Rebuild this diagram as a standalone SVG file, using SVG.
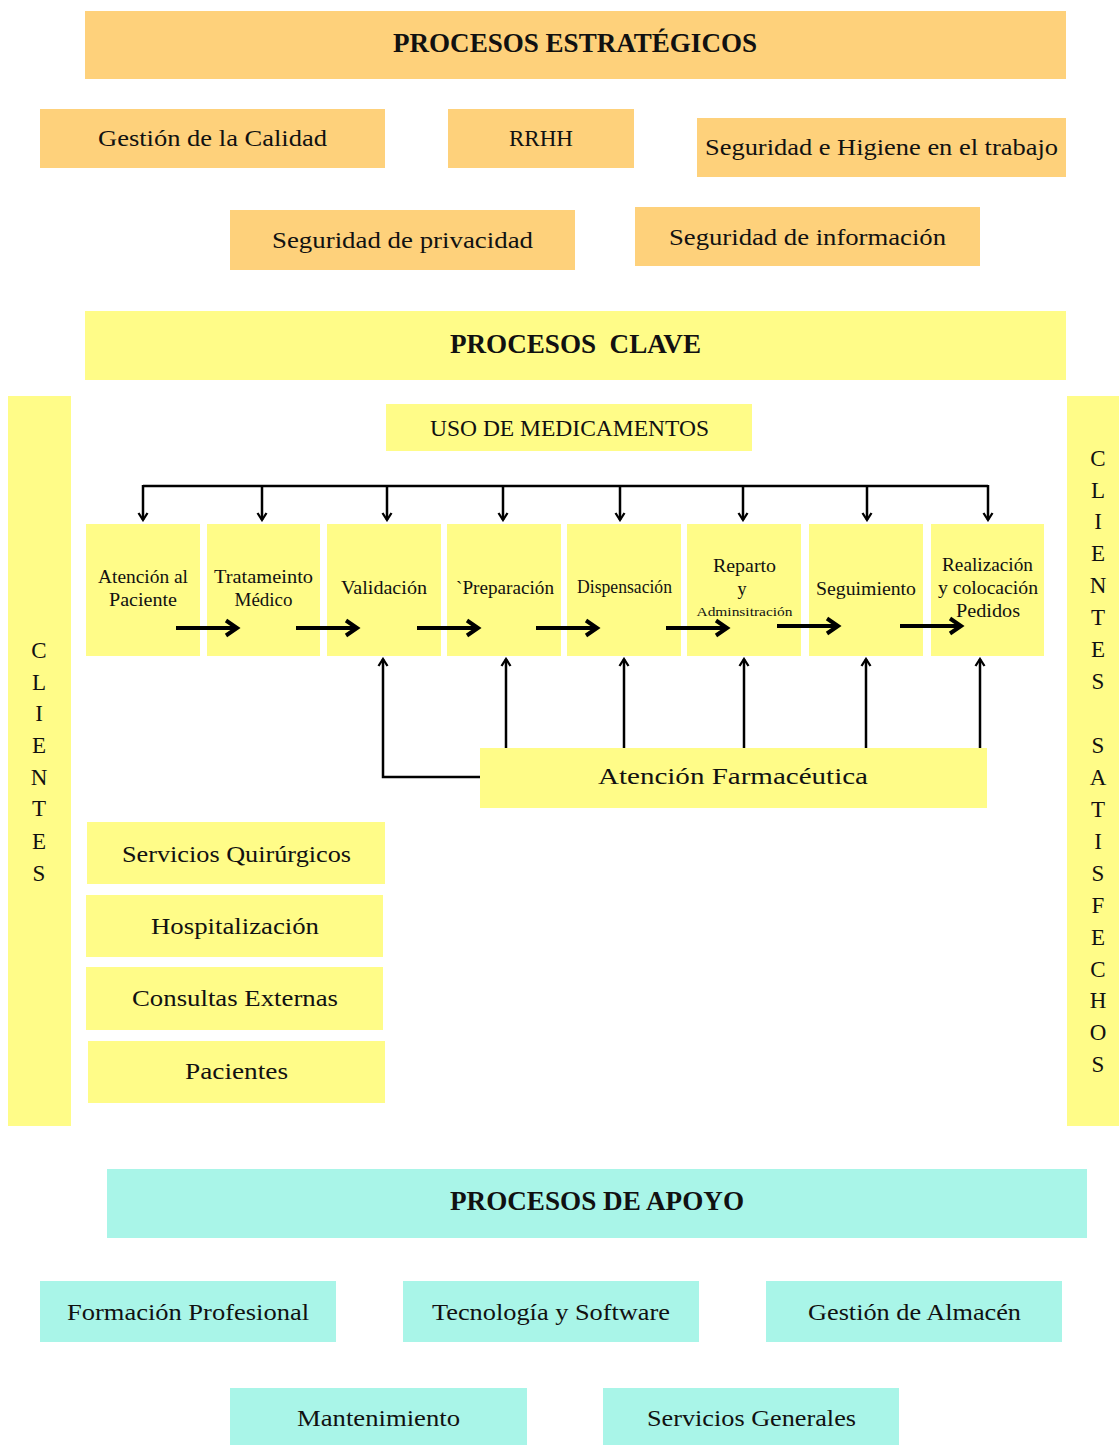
<svg xmlns="http://www.w3.org/2000/svg" width="1119" height="1445" viewBox="0 0 1119 1445">
  <style>
    text { font-family: "Liberation Serif", "Times New Roman", serif; fill: #111; text-anchor: middle; }
    .h { font-weight: bold; font-size: 27px; }
    .m { font-size: 24px; }
    .s { font-size: 18px; }
    .xs { font-size: 13px; }
    .v { font-size: 23px; }
    .est { fill: #FED17B; }
    .clave { fill: #FFFC88; }
    .apoyo { fill: #A9F5E8; }
    .thin { fill: none; stroke: #000; stroke-width: 2.5; }
    .thick { fill: none; stroke: #000; stroke-width: 4; }
  </style>
  <defs>
    <marker id="tip" viewBox="0 0 12 12" refX="10" refY="6" markerWidth="12" markerHeight="12" markerUnits="userSpaceOnUse" orient="auto">
      <path d="M3,1.5 L10,6 L3,10.5" fill="none" stroke="#000" stroke-width="2.3"/>
    </marker>
    <marker id="tipBig" viewBox="0 0 20 20" refX="16" refY="10" markerWidth="20" markerHeight="20" markerUnits="userSpaceOnUse" orient="auto">
      <path d="M5,2.5 L16,10 L5,17.5" fill="none" stroke="#000" stroke-width="4"/>
    </marker>
  </defs>

  <rect width="1119" height="1445" fill="#fff"/>

  <!-- Strategic processes -->
  <g id="procesos-estrategicos">
    <rect class="est" x="85" y="11" width="981" height="68"/>
    <text class="h" x="575" y="52" textLength="364" lengthAdjust="spacingAndGlyphs">PROCESOS ESTRATÉGICOS</text>
  </g>
  <g id="gestion-calidad">
    <rect class="est" x="40" y="109" width="345" height="59"/>
    <text class="m" x="212.5" y="146" textLength="229" lengthAdjust="spacingAndGlyphs">Gestión de la Calidad</text>
  </g>
  <g id="rrhh">
    <rect class="est" x="448" y="109" width="186" height="59"/>
    <text class="m" x="541" y="146" textLength="64" lengthAdjust="spacingAndGlyphs">RRHH</text>
  </g>
  <g id="seguridad-higiene">
    <rect class="est" x="697" y="118" width="369" height="59"/>
    <text class="m" x="881.5" y="155" textLength="353" lengthAdjust="spacingAndGlyphs">Seguridad e Higiene en el trabajo</text>
  </g>
  <g id="seguridad-privacidad">
    <rect class="est" x="230" y="210" width="345" height="60"/>
    <text class="m" x="402.5" y="248" textLength="261" lengthAdjust="spacingAndGlyphs">Seguridad de privacidad</text>
  </g>
  <g id="seguridad-informacion">
    <rect class="est" x="635" y="207" width="345" height="59"/>
    <text class="m" x="807.5" y="245" textLength="277" lengthAdjust="spacingAndGlyphs">Seguridad de información</text>
  </g>

  <!-- Key processes -->
  <g id="procesos-clave">
    <rect class="clave" x="85" y="311" width="981" height="69"/>
    <text class="h" x="575.5" y="353" textLength="251" lengthAdjust="spacingAndGlyphs" xml:space="preserve">PROCESOS  CLAVE</text>
  </g>
  <g id="uso-medicamentos">
    <rect class="clave" x="386" y="404" width="366" height="47"/>
    <text class="m" x="569.5" y="436" textLength="279" lengthAdjust="spacingAndGlyphs">USO DE MEDICAMENTOS</text>
  </g>

  <g id="clientes-entrada">
    <rect class="clave" x="8" y="396" width="63" height="730"/>
    <text class="v" x="39" y="658">C</text>
    <text class="v" x="39" y="690">L</text>
    <text class="v" x="39" y="721">I</text>
    <text class="v" x="39" y="753">E</text>
    <text class="v" x="39" y="785">N</text>
    <text class="v" x="39" y="816">T</text>
    <text class="v" x="39" y="849">E</text>
    <text class="v" x="39" y="881">S</text>
  </g>

  <g id="clientes-satisfechos">
    <rect class="clave" x="1067" y="396" width="52" height="730"/>
    <text class="v" x="1098" y="466">C</text>
    <text class="v" x="1098" y="498">L</text>
    <text class="v" x="1098" y="529">I</text>
    <text class="v" x="1098" y="561">E</text>
    <text class="v" x="1098" y="593">N</text>
    <text class="v" x="1098" y="625">T</text>
    <text class="v" x="1098" y="657">E</text>
    <text class="v" x="1098" y="689">S</text>
    <text class="v" x="1098" y="753">S</text>
    <text class="v" x="1098" y="785">A</text>
    <text class="v" x="1098" y="817">T</text>
    <text class="v" x="1098" y="849">I</text>
    <text class="v" x="1098" y="881">S</text>
    <text class="v" x="1098" y="913">F</text>
    <text class="v" x="1098" y="945">E</text>
    <text class="v" x="1098" y="977">C</text>
    <text class="v" x="1098" y="1008">H</text>
    <text class="v" x="1098" y="1040">O</text>
    <text class="v" x="1098" y="1072">S</text>
  </g>

  <!-- Medication-use chain -->
  <g id="atencion-paciente">
    <rect class="clave" x="86" y="524" width="114" height="132"/>
    <text class="s" x="143" y="583" textLength="90" lengthAdjust="spacingAndGlyphs">Atención al</text>
    <text class="s" x="143" y="606" textLength="68" lengthAdjust="spacingAndGlyphs">Paciente</text>
  </g>
  <g id="tratamiento-medico">
    <rect class="clave" x="207" y="524" width="113" height="132"/>
    <text class="s" x="263.5" y="583" textLength="99" lengthAdjust="spacingAndGlyphs">Tratameinto</text>
    <text class="s" x="263.5" y="606" textLength="58" lengthAdjust="spacingAndGlyphs">Médico</text>
  </g>
  <g id="validacion">
    <rect class="clave" x="327" y="524" width="114" height="132"/>
    <text class="s" x="384" y="594" textLength="86" lengthAdjust="spacingAndGlyphs">Validación</text>
  </g>
  <g id="preparacion">
    <rect class="clave" x="447" y="524" width="114" height="132"/>
    <text class="s" x="505" y="594" textLength="98" lengthAdjust="spacingAndGlyphs">`Preparación</text>
  </g>
  <g id="dispensacion">
    <rect class="clave" x="567" y="524" width="114" height="132"/>
    <text class="s" x="624.5" y="593" font-size="16px" textLength="95" lengthAdjust="spacingAndGlyphs">Dispensación</text>
  </g>
  <g id="reparto-administracion">
    <rect class="clave" x="687" y="524" width="114" height="132"/>
    <text class="s" x="744.5" y="572" textLength="63" lengthAdjust="spacingAndGlyphs">Reparto</text>
    <text class="s" x="742" y="595">y</text>
    <text class="xs" x="744.5" y="616" textLength="96" lengthAdjust="spacingAndGlyphs">Adminsitración</text>
  </g>
  <g id="seguimiento">
    <rect class="clave" x="809" y="524" width="114" height="132"/>
    <text class="s" x="866" y="595" textLength="100" lengthAdjust="spacingAndGlyphs">Seguimiento</text>
  </g>
  <g id="realizacion-pedidos">
    <rect class="clave" x="931" y="524" width="113" height="132"/>
    <text class="s" x="987.5" y="571" textLength="91" lengthAdjust="spacingAndGlyphs">Realización</text>
    <text class="s" x="988" y="594" textLength="100" lengthAdjust="spacingAndGlyphs">y colocación</text>
    <text class="s" x="988" y="617" textLength="64" lengthAdjust="spacingAndGlyphs">Pedidos</text>
  </g>

  <g id="atencion-farmaceutica">
    <rect class="clave" x="480" y="748" width="507" height="60"/>
    <text class="m" x="733" y="784" textLength="270" lengthAdjust="spacingAndGlyphs">Atención Farmacéutica</text>
  </g>

  <!-- Service areas -->
  <g id="servicios-quirurgicos">
    <rect class="clave" x="87" y="822" width="298" height="62"/>
    <text class="m" x="236.5" y="862" textLength="229" lengthAdjust="spacingAndGlyphs">Servicios Quirúrgicos</text>
  </g>
  <g id="hospitalizacion">
    <rect class="clave" x="86" y="895" width="297" height="62"/>
    <text class="m" x="235" y="934" textLength="168" lengthAdjust="spacingAndGlyphs">Hospitalización</text>
  </g>
  <g id="consultas-externas">
    <rect class="clave" x="86" y="967" width="297" height="63"/>
    <text class="m" x="235" y="1006" textLength="206" lengthAdjust="spacingAndGlyphs">Consultas Externas</text>
  </g>
  <g id="pacientes">
    <rect class="clave" x="88" y="1041" width="297" height="62"/>
    <text class="m" x="236.5" y="1079" textLength="103" lengthAdjust="spacingAndGlyphs">Pacientes</text>
  </g>

  <!-- Support processes -->
  <g id="procesos-apoyo">
    <rect class="apoyo" x="107" y="1169" width="980" height="69"/>
    <text class="h" x="597" y="1210" textLength="294" lengthAdjust="spacingAndGlyphs">PROCESOS DE APOYO</text>
  </g>
  <g id="formacion-profesional">
    <rect class="apoyo" x="40" y="1281" width="296" height="61"/>
    <text class="m" x="188" y="1320" textLength="242" lengthAdjust="spacingAndGlyphs">Formación Profesional</text>
  </g>
  <g id="tecnologia-software">
    <rect class="apoyo" x="403" y="1281" width="296" height="61"/>
    <text class="m" x="551" y="1320" textLength="238" lengthAdjust="spacingAndGlyphs">Tecnología y Software</text>
  </g>
  <g id="gestion-almacen">
    <rect class="apoyo" x="766" y="1281" width="296" height="61"/>
    <text class="m" x="914.5" y="1320" textLength="213" lengthAdjust="spacingAndGlyphs">Gestión de Almacén</text>
  </g>
  <g id="mantenimiento">
    <rect class="apoyo" x="230" y="1388" width="297" height="57"/>
    <text class="m" x="378.5" y="1426" textLength="163" lengthAdjust="spacingAndGlyphs">Mantenimiento</text>
  </g>
  <g id="servicios-generales">
    <rect class="apoyo" x="603" y="1388" width="296" height="57"/>
    <text class="m" x="751.5" y="1426" textLength="209" lengthAdjust="spacingAndGlyphs">Servicios Generales</text>
  </g>

  <!-- Connectors -->
  <g id="connectors">
    <!-- distribution from USO DE MEDICAMENTOS to each step -->
    <path class="thin" d="M143,486 H988"/>
    <path class="thin" d="M143,485 V520" marker-end="url(#tip)"/>
    <path class="thin" d="M262,486 V520" marker-end="url(#tip)"/>
    <path class="thin" d="M387,486 V520" marker-end="url(#tip)"/>
    <path class="thin" d="M503,486 V520" marker-end="url(#tip)"/>
    <path class="thin" d="M620,486 V520" marker-end="url(#tip)"/>
    <path class="thin" d="M743,486 V520" marker-end="url(#tip)"/>
    <path class="thin" d="M867,486 V520" marker-end="url(#tip)"/>
    <path class="thin" d="M988,485 V520" marker-end="url(#tip)"/>

    <!-- sequence between steps -->
    <path class="thick" d="M176,628 H237" marker-end="url(#tipBig)"/>
    <path class="thick" d="M296,628 H357" marker-end="url(#tipBig)"/>
    <path class="thick" d="M417,628 H478" marker-end="url(#tipBig)"/>
    <path class="thick" d="M536,628 H597" marker-end="url(#tipBig)"/>
    <path class="thick" d="M666,628 H727" marker-end="url(#tipBig)"/>
    <path class="thick" d="M777,626 H838" marker-end="url(#tipBig)"/>
    <path class="thick" d="M900,626 H961" marker-end="url(#tipBig)"/>

    <!-- pharmaceutical care feedback -->
    <path class="thin" d="M480,777 H383 V659" marker-end="url(#tip)"/>
    <path class="thin" d="M506,748 V659" marker-end="url(#tip)"/>
    <path class="thin" d="M624,748 V659" marker-end="url(#tip)"/>
    <path class="thin" d="M744,748 V659" marker-end="url(#tip)"/>
    <path class="thin" d="M866,748 V659" marker-end="url(#tip)"/>
    <path class="thin" d="M980,748 V659" marker-end="url(#tip)"/>
  </g>
</svg>
